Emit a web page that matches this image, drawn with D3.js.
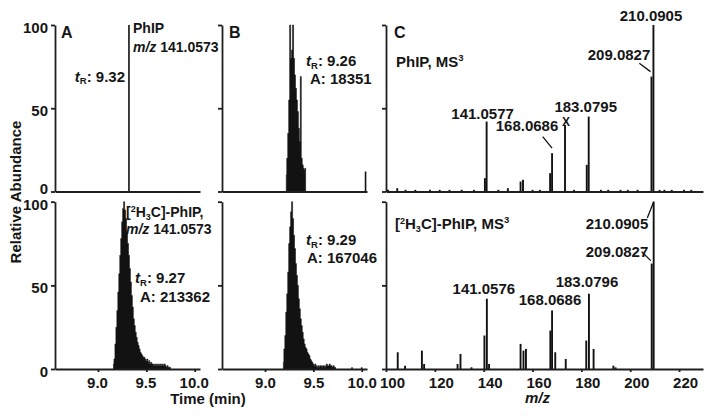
<!DOCTYPE html>
<html>
<head>
<meta charset="utf-8">
<script src="https://cdn.jsdelivr.net/npm/d3@7"></script>
<style>
  body { margin: 0; background: #fff; }
  svg text { font-family: "Liberation Sans", Arial, sans-serif; font-weight: bold; fill: #161616; }
  .axis path, .axis line { stroke: #1e1e1e; stroke-width: 1.8px; }
</style>
</head>
<body>
<svg id="fig" width="714" height="419"></svg>
<script>
// ---- extracted ion chromatograms (time in min, relative abundance %) ----
var timesA1 = [9.32];
var abundA1 = [100];

var timesA2 = [9.16, 9.17, 9.18, 9.19, 9.20, 9.21, 9.22, 9.23, 9.24, 9.25,
               9.26, 9.27, 9.28, 9.29, 9.30, 9.31, 9.32, 9.33, 9.34, 9.35,
               9.36, 9.37, 9.38, 9.39, 9.40, 9.41, 9.42, 9.43, 9.44, 9.45,
               9.46, 9.47, 9.48, 9.49, 9.50, 9.51, 9.52, 9.53, 9.54, 9.55,
               9.56, 9.57, 9.58, 9.59, 9.60, 9.61, 9.62, 9.63, 9.64, 9.65,
               9.66, 9.67, 9.68, 9.69, 9.70, 9.71, 9.72, 9.73, 9.74, 9.75];
var abundA2 = [3, 6, 15, 25, 35, 46, 57, 68, 78, 88,
               96, 100, 95, 90, 82, 75, 68, 60, 52, 44,
               37, 30, 26, 22, 19, 16, 14, 12, 10, 9,
               8, 7, 7, 6, 5, 6, 4, 5, 3, 4,
               3, 3, 2, 3, 2, 3, 2, 3, 2, 3,
               2, 3, 2, 3, 2, 1, 2, 1, 1, 1];

var timesB1 = [9.22, 9.23, 9.24, 9.25, 9.26, 9.27, 9.28, 9.29, 9.30, 9.31,
               9.32, 9.33, 9.34, 9.35, 9.36, 9.37, 9.38, 9.39, 9.40, 9.41,
               9.42, 10.04];
var abundB1 = [10, 20, 35, 55, 100, 80, 85, 100, 80, 70,
               62, 55, 48, 38, 30, 69, 20, 16, 14, 13,
               14, 12];

var timesB2 = [9.19, 9.20, 9.21, 9.22, 9.23, 9.24, 9.25, 9.26, 9.27, 9.28,
               9.29, 9.30, 9.31, 9.32, 9.33, 9.34, 9.35, 9.36, 9.37, 9.38,
               9.39, 9.40, 9.41, 9.42, 9.43, 9.44, 9.45, 9.46, 9.47, 9.48,
               9.49, 9.50, 9.51, 9.52, 9.53, 9.54, 9.55, 9.56, 9.57, 9.58,
               9.59, 9.60, 9.61, 9.62, 9.63, 9.64, 9.65, 9.66, 9.67, 9.68,
               9.69, 9.70, 9.71, 9.72, 9.73, 9.90, 10.00];
var abundB2 = [4, 12, 20, 34, 45, 58, 75, 85, 94, 100,
               90, 80, 72, 63, 56, 50, 42, 36, 30, 26,
               22, 18, 15, 13, 12, 10, 9, 8, 6, 5,
               4, 3, 2, 3, 2, 1, 2, 1, 2, 2,
               1, 2, 2, 1, 2, 3, 2, 2, 3, 2,
               2, 1, 2, 1, 1, 1, 1];

// ---- MS3 product ion spectra (m/z, relative abundance %) ----
var mzC1  = [100.8, 104.6, 108, 112, 118, 122, 126, 131, 136, 140.5,
             141.2, 146, 149.9, 155.1, 156.1, 160, 163, 167.2, 168.0, 173.3,
             177, 182.2, 183.0, 188, 191, 196, 199, 203, 208.7, 209.5,
             212, 214, 217, 222, 225];
var intC1 = [1, 2, 1, 1, 1, 1, 1, 1, 1, 8,
             42, 1, 2, 6, 7, 1, 1, 11, 23, 40,
             1, 16, 45, 1, 1, 1, 1, 1, 69, 100,
             1, 1, 1, 1, 1];

var mzC2  = [104.8, 107.8, 114.7, 115.6, 129.3, 130.5, 135, 140.3, 141.3, 142.2,
             155.1, 156.3, 157.3, 167.3, 168.0, 169.3, 173.6, 182.0, 183.1, 185.0,
             193.1, 194, 208.8, 209.6];
var intC2 = [10, 2, 11, 3, 3, 9, 1, 20, 42, 3,
             15, 11, 12, 23, 35, 10, 6, 17, 45, 12,
             2, 1, 63, 100];

var timeTicks = [9.0, 9.5, 10.0];
var mzTicks = [100, 120, 140, 160, 180, 200, 220];
var abundTicks = [0, 50, 100];

// ---- layout ----
var svg = d3.select('#fig');
var panelX = {A: [55, 200], B: [222, 367], C: [386, 703]};
var rowY = {top: [191.5, 25], bottom: [369, 201.7]};
var timeDomain = [8.555, 10.055];
var mzDomain = [100, 229.8];
var INK = '#121212';

function yFor(row) { return d3.scaleLinear().domain([0, 100]).range(rowY[row]); }
function xTime(p) { return d3.scaleLinear().domain(timeDomain).range(panelX[p]); }
function xMz() { return d3.scaleLinear().domain(mzDomain).range(panelX.C); }

function drawAxes(x, y, row, showYLabels, xTickVals, xFmt, xLabelShift) {
  var ya = d3.axisLeft(y).tickValues(abundTicks).tickSize(4).tickSizeOuter(0).tickPadding(3)
      .tickFormat(showYLabels ? d3.format('d') : '');
  var gy = svg.append('g').attr('class', 'axis')
      .attr('transform', 'translate(' + x.range()[0] + ',0)').call(ya);
  gy.selectAll('text').style('font-size', '15px')
      .attr('dy', function (d) { return (row === 'top' && d === 0) ? '0.15em' : '0.5em'; });

  var xa = d3.axisBottom(x).tickValues(xTickVals).tickSize(3).tickSizeOuter(0).tickPadding(5)
      .tickFormat(xFmt);
  var gx = svg.append('g').attr('class', 'axis')
      .attr('transform', 'translate(0,' + y(0) + ')').call(xa);
  gx.selectAll('text').style('font-size', '15px').attr('dx', xLabelShift || 0);
}

// contiguous runs are drawn as one stepped area, isolated scans as thin bars
function drawChrom(p, row, times, abund) {
  var x = xTime(p), y = yFor(row);
  var pts = times.map(function (t, i) { return {t: t, v: abund[i]}; });
  var runs = [], cur = [];
  pts.forEach(function (d, i) {
    if (i > 0 && d.t - pts[i - 1].t > 0.015) { runs.push(cur); cur = []; }
    cur.push(d);
  });
  runs.push(cur);
  var area = d3.area().curve(d3.curveStep)
      .x(function (d) { return x(d.t); })
      .y0(y(0)).y1(function (d) { return y(d.v); });
  var g = svg.append('g');
  runs.forEach(function (run) {
    if (run.length === 1) {
      g.append('rect').attr('x', x(run[0].t) - 0.8).attr('width', 1.6)
          .attr('y', y(run[0].v)).attr('height', y(0) - y(run[0].v)).attr('fill', INK);
    } else {
      g.append('path').datum(run).attr('d', area).attr('fill', INK)
          .attr('stroke', INK).attr('stroke-width', 0.6);
    }
  });
  drawAxes(x, y, row, p === 'A', row === 'bottom' ? timeTicks : [], d3.format('.1f'), p === 'A' ? -1 : 0);
  return {x: x, y: y};
}

function drawSpectrum(row, mz, inten) {
  var x = xMz(), y = yFor(row);
  svg.append('g').selectAll('line').data(mz).enter().append('line')
      .attr('x1', function (d) { return x(d); })
      .attr('x2', function (d) { return x(d); })
      .attr('y1', y(0))
      .attr('y2', function (d, i) { return y(inten[i]); })
      .attr('stroke', INK)
      .attr('stroke-width', 1.9);
  drawAxes(x, y, row, false, row === 'bottom' ? mzTicks : [], d3.format('d'), 6);
  return {x: x, y: y};
}

// text helpers
function label(x, y, size, anchor) {
  return svg.append('text').attr('x', x).attr('y', y)
      .style('font-size', size + 'px').attr('text-anchor', anchor || 'start');
}
function tR(x, y, val, anchor) {
  var t = label(x, y, 15, anchor);
  t.append('tspan').style('font-style', 'italic').text('t');
  t.append('tspan').attr('dy', 2.5).style('font-size', '9.5px').text('R');
  t.append('tspan').attr('dy', -2.5).text(': ' + val);
}
function mzLabel(x, y, val) {
  var t = label(x, y, 14);
  t.append('tspan').style('font-style', 'italic').text('m/z');
  t.append('tspan').text(' ' + val);
}
function labeledH3C(t) {
  t.append('tspan').text('[');
  t.append('tspan').attr('dy', -5).style('font-size', '9px').text('2');
  t.append('tspan').attr('dy', 5).text('H');
  t.append('tspan').attr('dy', 3).style('font-size', '9px').text('3');
  t.append('tspan').attr('dy', -3).text('C]-PhIP');
}
function leader(x1, y1, x2, y2) {
  svg.append('line').attr('x1', x1).attr('y1', y1).attr('x2', x2).attr('y2', y2)
      .attr('stroke', INK).attr('stroke-width', 1.3);
}
function peakLabel(s, mz, inten, text, dx, dy) {
  label(s.x(mz) + dx, s.y(inten) + dy, 15, 'middle').text(text);
}

// ---- panels ----
var a1 = drawChrom('A', 'top', timesA1, abundA1);
var a2 = drawChrom('A', 'bottom', timesA2, abundA2);
var b1 = drawChrom('B', 'top', timesB1, abundB1);
var b2 = drawChrom('B', 'bottom', timesB2, abundB2);
var c1 = drawSpectrum('top', mzC1, intC1);
var c2 = drawSpectrum('bottom', mzC2, intC2);

// panel letters
label(61, 38, 16).text('A');
label(229, 38, 16).text('B');
label(394, 38, 16).text('C');

// panel A annotations
label(133, 33, 14).text('PhIP');
mzLabel(133, 51.5, '141.0573');
tR(125, 81.5, '9.32', 'end');

var t = label(126, 217, 14);
labeledH3C(t);
t.append('tspan').text(',');
mzLabel(126, 234, '141.0573');
tR(135, 283, '9.27');
label(140, 301.5, 15).text('A: 213362');

// panel B annotations
tR(306, 66, '9.26');
label(310, 84, 15).text('A: 18351');
tR(306, 245, '9.29');
label(307, 262.5, 15).text('A: 167046');

// panel C annotations
var ms1 = label(396, 66.5, 15);
ms1.append('tspan').text('PhIP, MS');
ms1.append('tspan').attr('dy', -6).style('font-size', '9.5px').text('3');

var ms2 = label(395, 228.5, 15);
labeledH3C(ms2);
ms2.append('tspan').text(', MS');
ms2.append('tspan').attr('dy', -6).style('font-size', '9.5px').text('3');

// top spectrum peak labels
peakLabel(c1, 141.2, 42, '141.0577', -4, -3);
peakLabel(c1, 183.0, 45, '183.0795', -3, -5);
label(c1.x(173.3) + 1, c1.y(40) + 1, 12, 'middle').text('X');
label(527, 131, 15, 'middle').text('168.0686');
leader(542.7, 136.7, c1.x(168.0), c1.y(23) - 5);
label(651, 20.5, 15, 'middle').text('210.0905');
label(619, 60, 15, 'middle').text('209.0827');
leader(639.3, 63.3, c1.x(208.7) - 1, c1.y(69) - 5);

// bottom spectrum peak labels
peakLabel(c2, 141.3, 42, '141.0576', -3, -5);
peakLabel(c2, 183.1, 45, '183.0796', -2, -7);
label(550, 305, 15, 'middle').text('168.0686');
label(617, 228.5, 15, 'middle').text('210.0905');
leader(647.3, 218, c2.x(209.6), c2.y(100));
label(617, 256.5, 15, 'middle').text('209.0827');
leader(641.7, 251.7, c2.x(208.8) - 1, c2.y(63) - 3);

// axis titles
svg.append('text').attr('transform', 'translate(21,192) rotate(-90)')
    .attr('text-anchor', 'middle').style('font-size', '15px').text('Relative Abundance');
label(208, 404, 15, 'middle').text('Time (min)');
label(537.5, 403, 15, 'middle').style('font-style', 'italic').text('m/z');
</script>
</body>
</html>
